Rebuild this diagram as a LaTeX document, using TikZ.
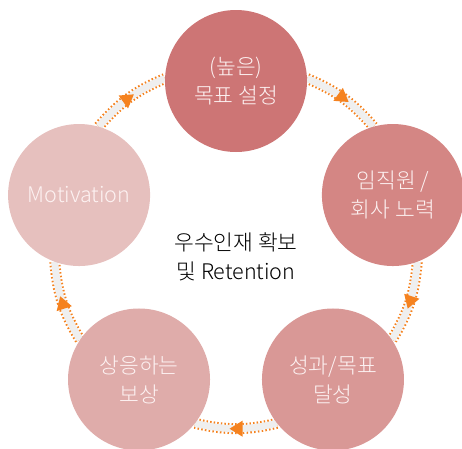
\documentclass[tikz,border=0pt]{standalone}
\usepackage{fontspec}
\setmainfont{Noto Sans CJK KR Light}
\usetikzlibrary{backgrounds,decorations.markings}

\definecolor{goalred}{HTML}{CD7575}
\definecolor{effortred}{HTML}{D48684}
\definecolor{resultred}{HTML}{D99896}
\definecolor{rewardred}{HTML}{DFACAA}
\definecolor{motivered}{HTML}{E6C0BE}
\definecolor{stagetext}{HTML}{FDF2F2}
\definecolor{bandgray}{HTML}{EFEFEF}
\definecolor{floworange}{HTML}{F5821F}

\begin{document}
\begin{tikzpicture}[x=1pt,y=1pt,
  every node/.style={align=center,font=\fontsize{21.5}{29}\selectfont},
  stage/.style={circle,minimum size=142pt,inner sep=0pt,text=stagetext},
  loopflow/.style={draw=bandgray,line width=7pt,
    preaction={draw=floworange,line width=11pt,dash pattern=on 1.5pt off 2.2pt},
    postaction={decorate},
    decoration={markings,mark=at position 0.5 with
      {\fill[floworange] (6.5pt,0) -- (-6.5pt,8pt) -- (-6.5pt,-8pt) -- cycle;}}}]

\useasboundingbox (-236,-202) rectangle (226,246);

% the five stages around the loop
\node[stage,fill=goalred]   (goal)   at (90:165)  {(높은)\\목표 설정};
\node[stage,fill=effortred] (effort) at (18:165)  {임직원 /\\회사 노력};
\node[stage,fill=resultred] (result) at (-54:165) {성과/목표\\달성};
\node[stage,fill=rewardred] (reward) at (234:165) {상응하는\\보상};
\node[stage,fill=motivered] (motive) at (162:165) {Motivation};

\node (core) at (0,-11) {우수인재 확보\\및 Retention};

% clockwise arrows behind the circles
\begin{pgfonlayer}{background}
\draw[loopflow] (goal.2) to[out=-23,in=131] (effort.106);
\draw[loopflow] (effort.-70) to[out=-95,in=59] (result.34);
\draw[loopflow] (result.-142) to[out=-167,in=-13] (reward.-38);
\draw[loopflow] (reward.146) to[out=121,in=-85] (motive.-110);
\draw[loopflow] (motive.74) to[out=49,in=-157] (goal.178);
\end{pgfonlayer}

\end{tikzpicture}
\end{document}
